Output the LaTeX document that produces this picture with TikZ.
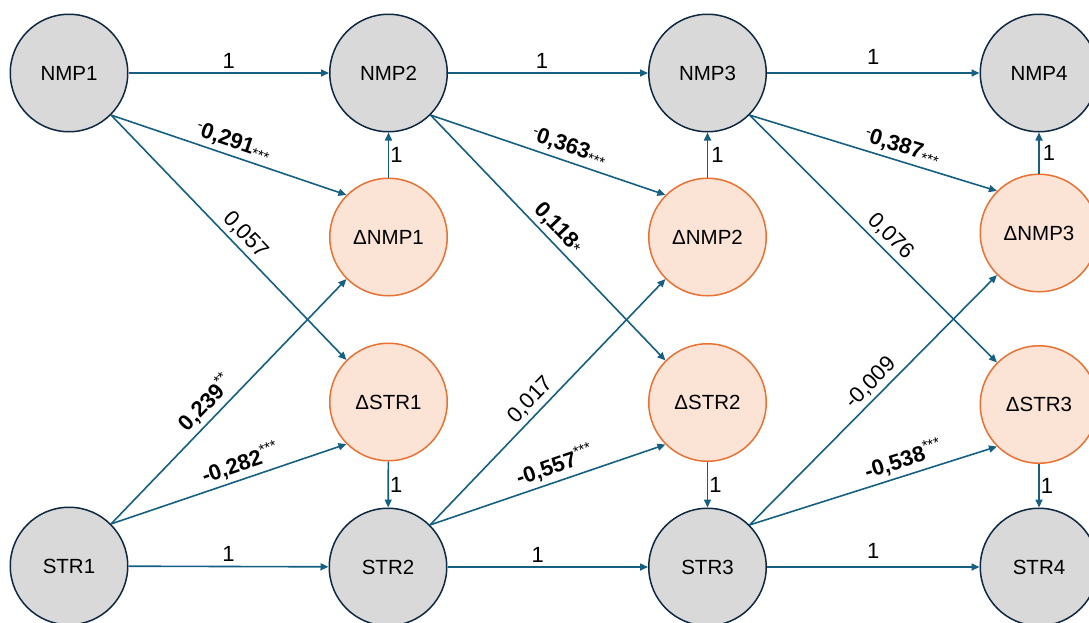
\documentclass[tikz,border=0pt]{standalone}
\usepackage{fontspec}
\setmainfont{Liberation Sans}
\usetikzlibrary{arrows.meta}
\definecolor{edgeblue}{HTML}{156082}
\definecolor{navyline}{HTML}{0E2841}
\definecolor{grayfill}{HTML}{D9D9D9}
\definecolor{orangeline}{HTML}{E97132}
\definecolor{orangefill}{HTML}{FBE3D6}
\newcommand{\smallsz}{\fontsize{15}{15}\selectfont}
\newcommand{\topneg}[2]{\raisebox{0.55ex}{\smallsz -}\textbf{#1}\raisebox{-0.3ex}{\smallsz #2}}
\newcommand{\botneg}[2]{\textbf{#1}\raisebox{0.75ex}{\smallsz #2}}
\begin{document}
\begin{tikzpicture}[x=1pt,y=-1pt,
  gnode/.style={circle, draw=navyline, fill=grayfill, line width=1.5pt, minimum size=117.5pt, inner sep=0pt, font=\fontsize{20.5}{24}\selectfont},
  dnode/.style={circle, draw=orangeline, fill=orangefill, line width=1.5pt, minimum size=117.5pt, inner sep=0pt, font=\fontsize{20.5}{24}\selectfont},
  link/.style={draw=edgeblue, line width=1.6pt, -{Triangle[length=8pt,width=7pt]}},
  lbl/.style={font=\fontsize{22}{25}\selectfont, inner sep=4pt, text=black}
]
\useasboundingbox (0,0) rectangle (1089,622);
\clip (0,0) rectangle (1089,622);
% nodes
\node[gnode] (N1) at (69,73) {NMP1};
\node[gnode] (N2) at (388.5,73) {NMP2};
\node[gnode] (N3) at (707.5,73) {NMP3};
\node[gnode] (N4) at (1039,73) {NMP4};
\node[dnode] (DN1) at (388.5,237) {ΔNMP1};
\node[dnode] (DS1) at (388.5,402) {ΔSTR1};
\node[dnode] (DN2) at (707.5,237) {ΔNMP2};
\node[dnode] (DS2) at (707.5,402.5) {ΔSTR2};
\node[dnode] (DN3) at (1039,233) {ΔNMP3};
\node[dnode] (DS3) at (1039,404.5) {ΔSTR3};
\node[gnode] (S1) at (69,566) {STR1};
\node[gnode] (S2) at (388,567) {STR2};
\node[gnode] (S3) at (707.5,567) {STR3};
\node[gnode] (S4) at (1039,567) {STR4};
% horizontal
\draw[link] (N1) -- node[lbl,above,yshift=0pt]{1} (N2);
\draw[link] (N2) -- node[lbl,above,yshift=0pt,pos=0.47]{1} (N3);
\draw[link] (N3) -- node[lbl,above,yshift=4pt]{1} (N4);
\draw[link] (S1) -- node[lbl,above,yshift=0pt]{1} (S2);
\draw[link] (S2) -- node[lbl,above,yshift=0pt,pos=0.45]{1} (S3);
\draw[link] (S3) -- node[lbl,above,yshift=4pt]{1} (S4);
% vertical
\draw[link] (DN1) -- node[lbl,right,inner sep=1pt]{1} (N2);
\draw[link] (DN2) -- node[lbl,right,inner sep=3pt]{1} (N3);
\draw[link] (DN3) -- node[lbl,right,inner sep=3pt]{1} (N4);
\draw[link] (DS1) -- node[lbl,right,inner sep=1pt]{1} (S2);
\draw[link] (DS2) -- node[lbl,right,inner sep=1pt]{1} (S3);
\draw[link] (DS3) -- node[lbl,right,inner sep=1pt]{1} (S4);
% diagonals wave 1
\draw[link] (N1.-45) -- node[lbl,sloped,above,pos=0.5]{\topneg{0,291}{***}} (DN1.135);
\draw[link] (N1.-45) -- node[lbl,sloped,above,pos=0.53]{0,057} (DS1.135);
\draw[link] (S1.45) -- node[lbl,sloped,above,pos=0.45]{\botneg{0,239}{**}} (DN1.-135);
\draw[link] (S1.45) -- node[lbl,sloped,above,pos=0.57]{\botneg{-0,282}{***}} (DS1.-135);
% wave 2
\draw[link] (N2.-45) -- node[lbl,sloped,above,pos=0.57]{\topneg{0,363}{***}} (DN2.135);
\draw[link] (N2.-45) -- node[lbl,sloped,above,pos=0.5]{\textbf{0,118}\raisebox{-0.2ex}{\fontsize{17}{17}\selectfont *}} (DS2.135);
\draw[link] (S2.45) -- node[lbl,sloped,above,pos=0.47]{0,017} (DN2.-135);
\draw[link] (S2.45) -- node[lbl,sloped,above,pos=0.55]{\botneg{-0,557}{***}} (DS2.-135);
% wave 3
\draw[link] (N3.-45) -- node[lbl,sloped,above,pos=0.6]{\topneg{0,387}{***}} (DN3.135);
\draw[link] (N3.-45) -- node[lbl,sloped,above,pos=0.53]{0,076} (DS3.135);
\draw[link] (S3.45) -- node[lbl,sloped,above,pos=0.53]{-0,009} (DN3.-135);
\draw[link] (S3.45) -- node[lbl,sloped,above,pos=0.64]{\botneg{-0,538}{***}} (DS3.-135);
\end{tikzpicture}
\end{document}
